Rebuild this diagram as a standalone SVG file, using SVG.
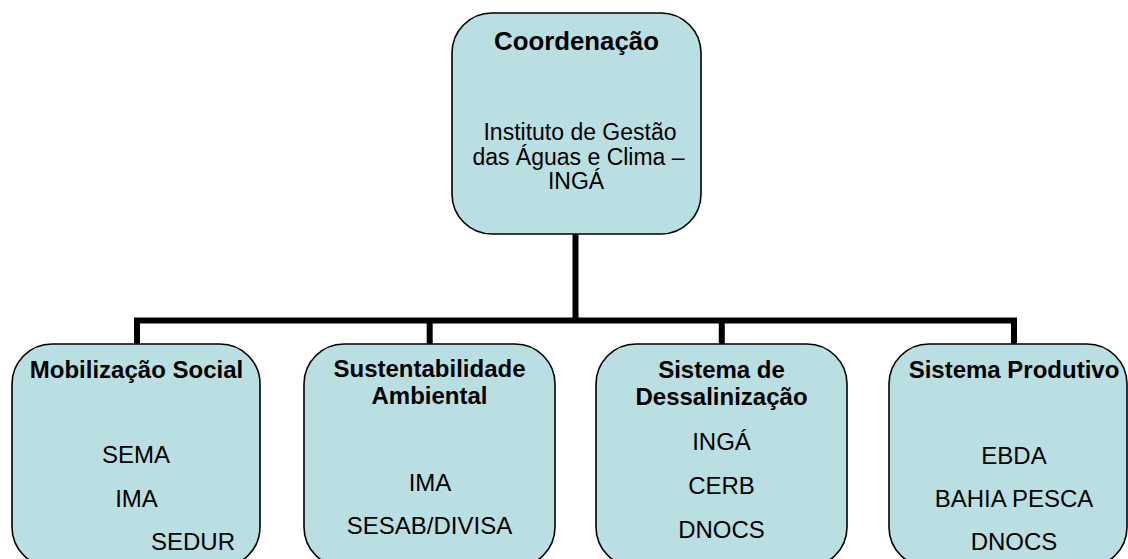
<svg xmlns="http://www.w3.org/2000/svg" width="1128" height="559" viewBox="0 0 1128 559">
<style>
.box{fill:#BADFE3;stroke:#000;stroke-width:1.6}
.t{font-family:"Liberation Sans",Arial,sans-serif;fill:#000;text-anchor:middle}
.h{font-weight:bold;font-size:24px}
.r{font-size:23px}
.s{font-size:24px}
.con{stroke:#000;stroke-width:6;fill:none}
</style>
<rect width="1128" height="559" fill="#fff"/>
<g id="connectors">
<path class="con" d="M575.5,234 V320.5"/>
<path class="con" d="M134,320.5 H1017"/>
<path class="con" d="M137,320.5 V344"/>
<path class="con" d="M429.7,320.5 V344"/>
<path class="con" d="M721.8,320.5 V344"/>
<path class="con" d="M1014,320.5 V344"/>
</g>
<g id="coordenacao">
<rect class="box" x="452" y="13" width="249" height="221" rx="40" ry="40"/>
<text class="t" x="576.5" y="50" font-weight="bold" font-size="25.8px">Coordenação</text>
<text class="t r" x="580" y="140">Instituto de Gestão</text>
<text class="t r" x="578.5" y="164.5">das Águas e Clima –</text>
<text class="t r" x="576" y="189">INGÁ</text>
</g>
<g id="mobilizacao">
<rect class="box" x="12" y="344" width="248" height="223" rx="40" ry="40"/>
<text class="t h" x="136.5" y="378">Mobilização Social</text>
<text class="t s" x="136" y="463">SEMA</text>
<text class="t s" x="136.5" y="507">IMA</text>
<text class="t s" x="193" y="549.5">SEDUR</text>
</g>
<g id="sustentabilidade">
<rect class="box" x="304" y="344" width="251" height="223" rx="40" ry="40"/>
<text class="t h" x="429.5" y="377">Sustentabilidade</text>
<text class="t h" x="429.5" y="404">Ambiental</text>
<text class="t s" x="430" y="491">IMA</text>
<text class="t s" x="429.5" y="533.5">SESAB/DIVISA</text>
</g>
<g id="dessalinizacao">
<rect class="box" x="596" y="344" width="251" height="223" rx="40" ry="40"/>
<text class="t h" x="721.5" y="377.5">Sistema de</text>
<text class="t h" x="721.5" y="404.5">Dessalinização</text>
<text class="t s" x="721.5" y="450">INGÁ</text>
<text class="t s" x="721.5" y="494">CERB</text>
<text class="t s" x="721.5" y="537.5">DNOCS</text>
</g>
<g id="produtivo">
<rect class="box" x="889" y="344" width="238" height="223" rx="40" ry="40"/>
<text class="t h" x="1014" y="378">Sistema Produtivo</text>
<text class="t s" x="1014" y="463.5">EBDA</text>
<text class="t s" x="1014" y="507">BAHIA PESCA</text>
<text class="t s" x="1014" y="550">DNOCS</text>
</g>
</svg>
